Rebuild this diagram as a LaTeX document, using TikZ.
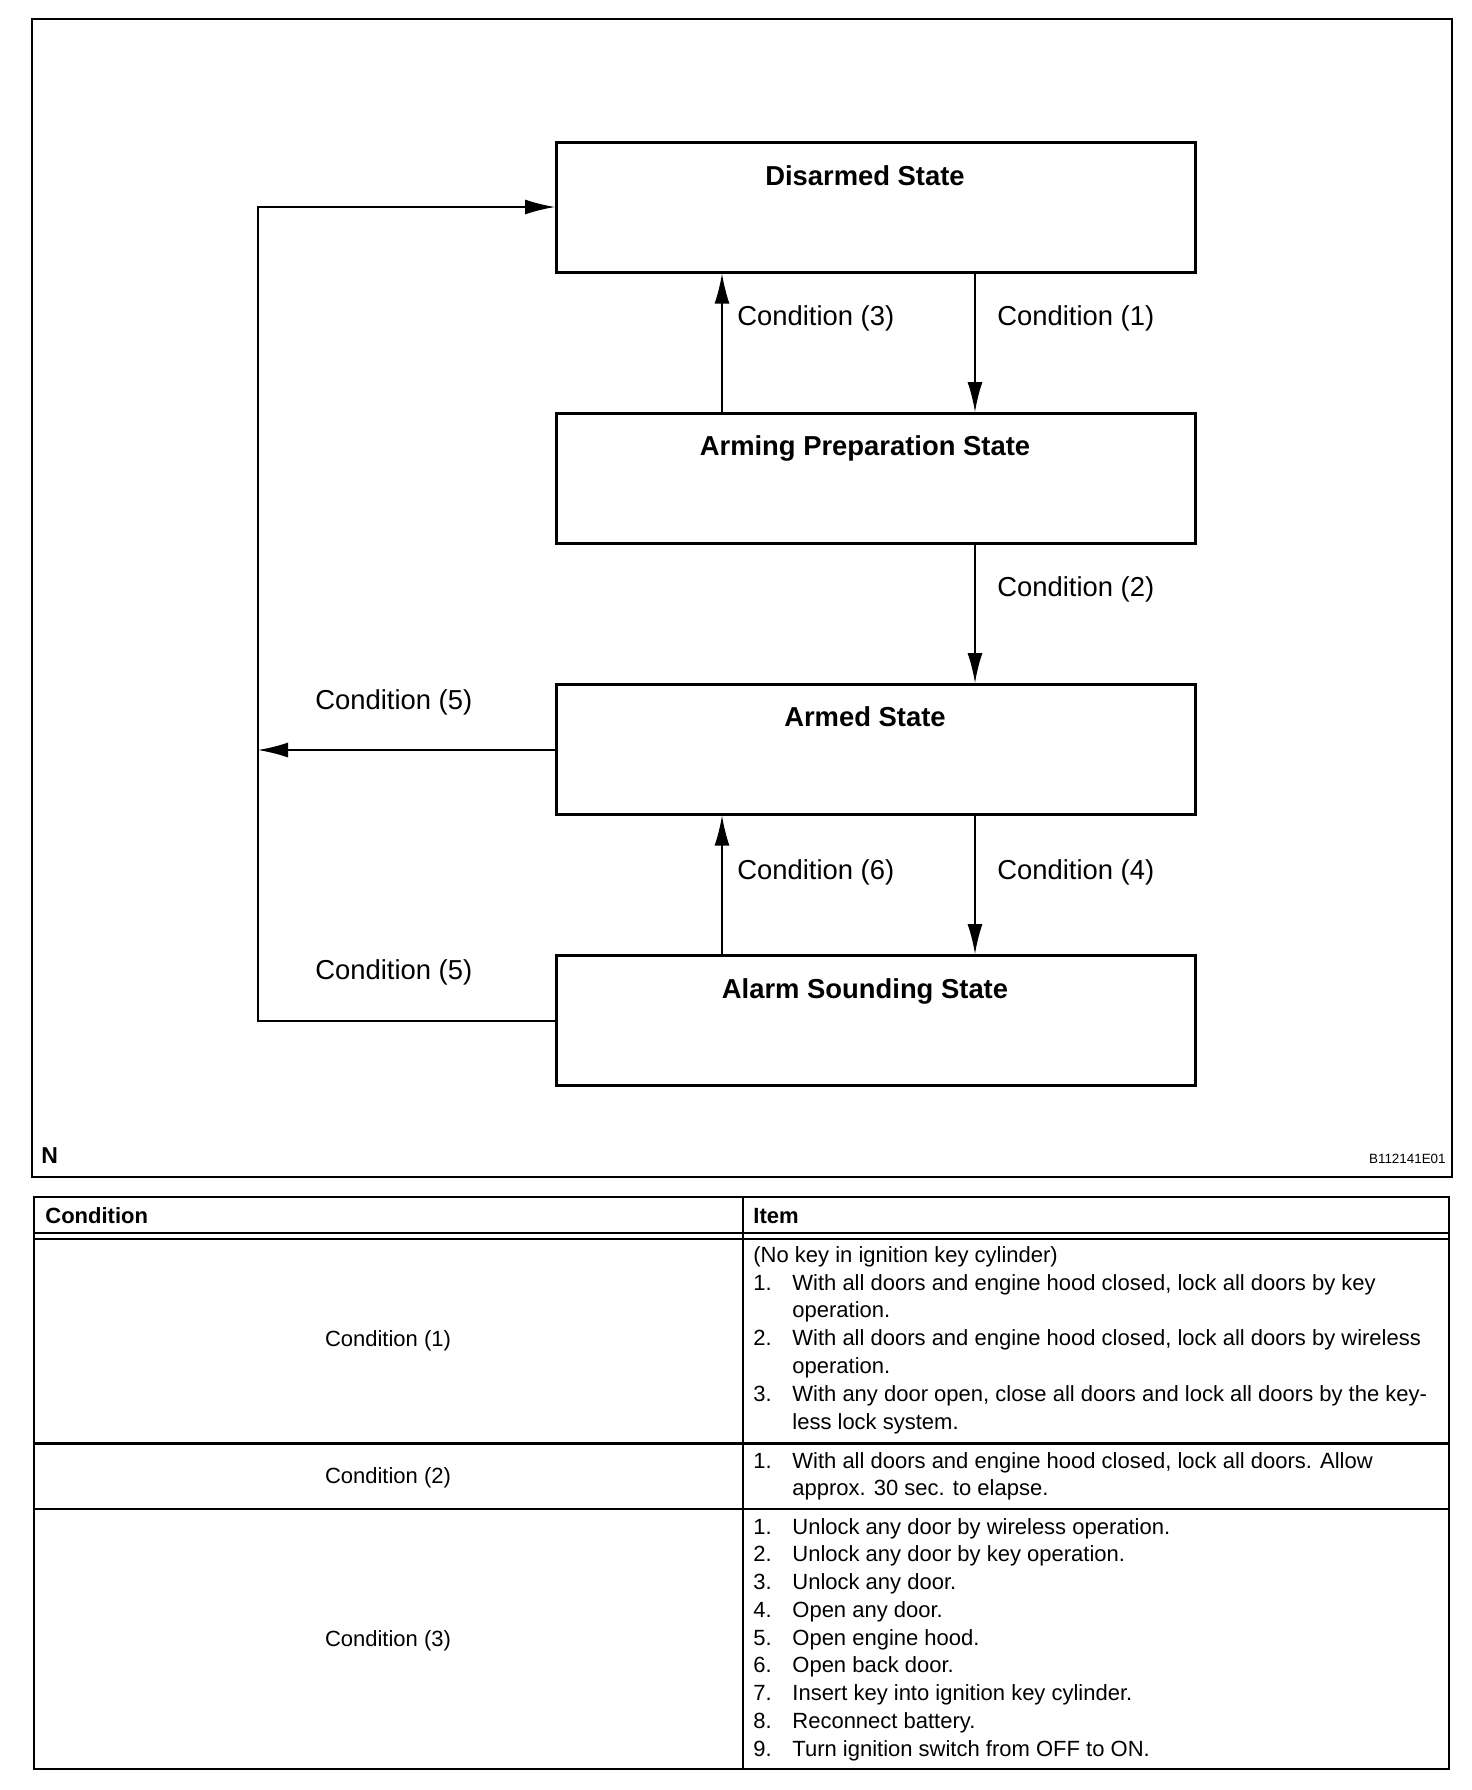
\documentclass[tikz,border=0pt]{standalone}
\usepackage{fontspec}
\setmainfont{Liberation Sans}
\usetikzlibrary{arrows.meta}
\begin{document}
\begin{tikzpicture}[x=0.5pt,y=-0.5pt,
  statebox/.style={draw, line width=1.5pt, minimum width=319.5pt, minimum height=64.8pt, anchor=north west, inner sep=0pt},
  lab/.style={font=\fontsize{13.7pt}{16pt}\selectfont, anchor=base west, inner sep=0pt},
  stitle/.style={font=\fontsize{13.7pt}{16pt}\selectfont\bfseries, anchor=base, inner sep=0pt},
  conn/.style={line width=0.75pt},
  tip/.style={-{Latex[length=15pt,width=7.5pt]}},
  tab/.style={font=\fontsize{11pt}{13pt}\selectfont, anchor=base west, inner sep=0pt},
  tabc/.style={font=\fontsize{11pt}{13pt}\selectfont, anchor=base, inner sep=0pt},
  tabh/.style={font=\fontsize{11pt}{13pt}\selectfont\bfseries, anchor=base west, inner sep=0pt},
  frame/.style={line width=1.3pt},
  tline/.style={line width=1.2pt}
]
\fill[white] (0,0) rectangle (1472,1790);
\useasboundingbox (0,0) rectangle (1472,1790);

% outer frame of diagram
\draw[frame] (32,19) rectangle (1452,1177);

% state boxes
\node[statebox] (dis) at (555,141) {};
\node[statebox] (prep) at (555,412) {};
\node[statebox] (armed) at (555,683) {};
\node[statebox] (alarm) at (555,954) {};

\node[stitle] (dist) at (865,185) {Disarmed State};
\node[stitle] (prept) at (865,455) {Arming Preparation State};
\node[stitle] (armedt) at (865,726) {Armed State};
\node[stitle] (alarmt) at (865,998) {Alarm Sounding State};

% helper coordinates
\coordinate (xu) at (722,0);
\coordinate (xd) at (975,0);
\coordinate (lx) at (258,0);
\coordinate (yd) at (0,207);
\coordinate (yb) at (0,750);
\coordinate (ya) at (0,1021);

% vertical connectors
\draw[conn,tip] (prep.north -| xu) -- (dis.south -| xu);
\draw[conn,tip] (dis.south -| xd) -- (prep.north -| xd);
\draw[conn,tip] (prep.south -| xd) -- (armed.north -| xd);
\draw[conn,tip] (alarm.north -| xu) -- (armed.south -| xu);
\draw[conn,tip] (armed.south -| xd) -- (alarm.north -| xd);

% left loop
\draw[conn,tip] (alarm.west |- ya) -| (lx |- yd) -- (dis.west |- yd);
\draw[conn,tip] (armed.west |- yb) -- (lx |- yb);

% connector labels
\node[lab] (c3) at (737,325) {Condition (3)};
\node[lab] (c1) at (997,325) {Condition (1)};
\node[lab] (c2) at (997,596) {Condition (2)};
\node[lab] (c6) at (737,879) {Condition (6)};
\node[lab] (c4) at (997,879) {Condition (4)};
\node[lab] (c5a) at (315,709) {Condition (5)};
\node[lab] (c5b) at (315,979) {Condition (5)};

\node[font=\fontsize{11.5pt}{13pt}\selectfont\bfseries, anchor=base west, inner sep=0pt] (nlab) at (41,1163) {N};
\node[font=\fontsize{6.7pt}{8pt}\selectfont, anchor=base east, inner sep=0pt] (code) at (1446,1163) {B112141E01};

% table
\draw[tline] (34,1197) rectangle (1449,1769);
\draw[tline] (743,1197) -- (743,1769);
\draw[tline] (34,1233) -- (1449,1233);
\draw[tline] (34,1239) -- (1449,1239);
\draw[line width=1.5pt] (34,1443) -- (1449,1443);
\draw[tline] (34,1509) -- (1449,1509);

\node[tabh] (hcond) at (45,1223) {Condition};
\node[tabh] (hitem) at (753,1223) {Item};

\node[tabc] (tc1) at (388,1346) {Condition (1)};
\node[tabc] (tc2) at (388,1483) {Condition (2)};
\node[tabc] (tc3) at (388,1646) {Condition (3)};

% row 1
\node[tab] (r1l0) at (753,1262) {(No key in ignition key cylinder)};
\node[tab] (r1n1) at (753,1290) {1.};
\node[tab] (r1l1) at (792,1290) {With all doors and engine hood closed, lock all doors by key};
\node[tab] (r1l2) at (792,1317.8) {operation.};
\node[tab] (r1n2) at (753,1345.6) {2.};
\node[tab] (r1l3) at (792,1345.6) {With all doors and engine hood closed, lock all doors by wireless};
\node[tab] (r1l4) at (792,1373.4) {operation.};
\node[tab] (r1n3) at (753,1401.2) {3.};
\node[tab] (r1l5) at (792,1401.2) {With any door open, close all doors and lock all doors by the key-};
\node[tab] (r1l6) at (792,1429) {less lock system.};

% row 2
\node[tab] (r2n1) at (753,1468) {1.};
\node[tab] (r2l1) at (792,1468) {With all doors and engine hood closed, lock all doors. Allow};
\node[tab] (r2l2) at (792,1495.8) {approx. 30 sec. to elapse.};

% row 3
\foreach \t [count=\i] in {Unlock any door by wireless operation., Unlock any door by key operation., Unlock any door., Open any door., Open engine hood., Open back door., Insert key into ignition key cylinder., Reconnect battery., Turn ignition switch from OFF to ON.} {
  \node[tab] (r3n\i) at (753,{1534+(\i-1)*27.75}) {\i.};
  \node[tab] (r3l\i) at (792,{1534+(\i-1)*27.75}) {\t};
}
\end{tikzpicture}
\end{document}
